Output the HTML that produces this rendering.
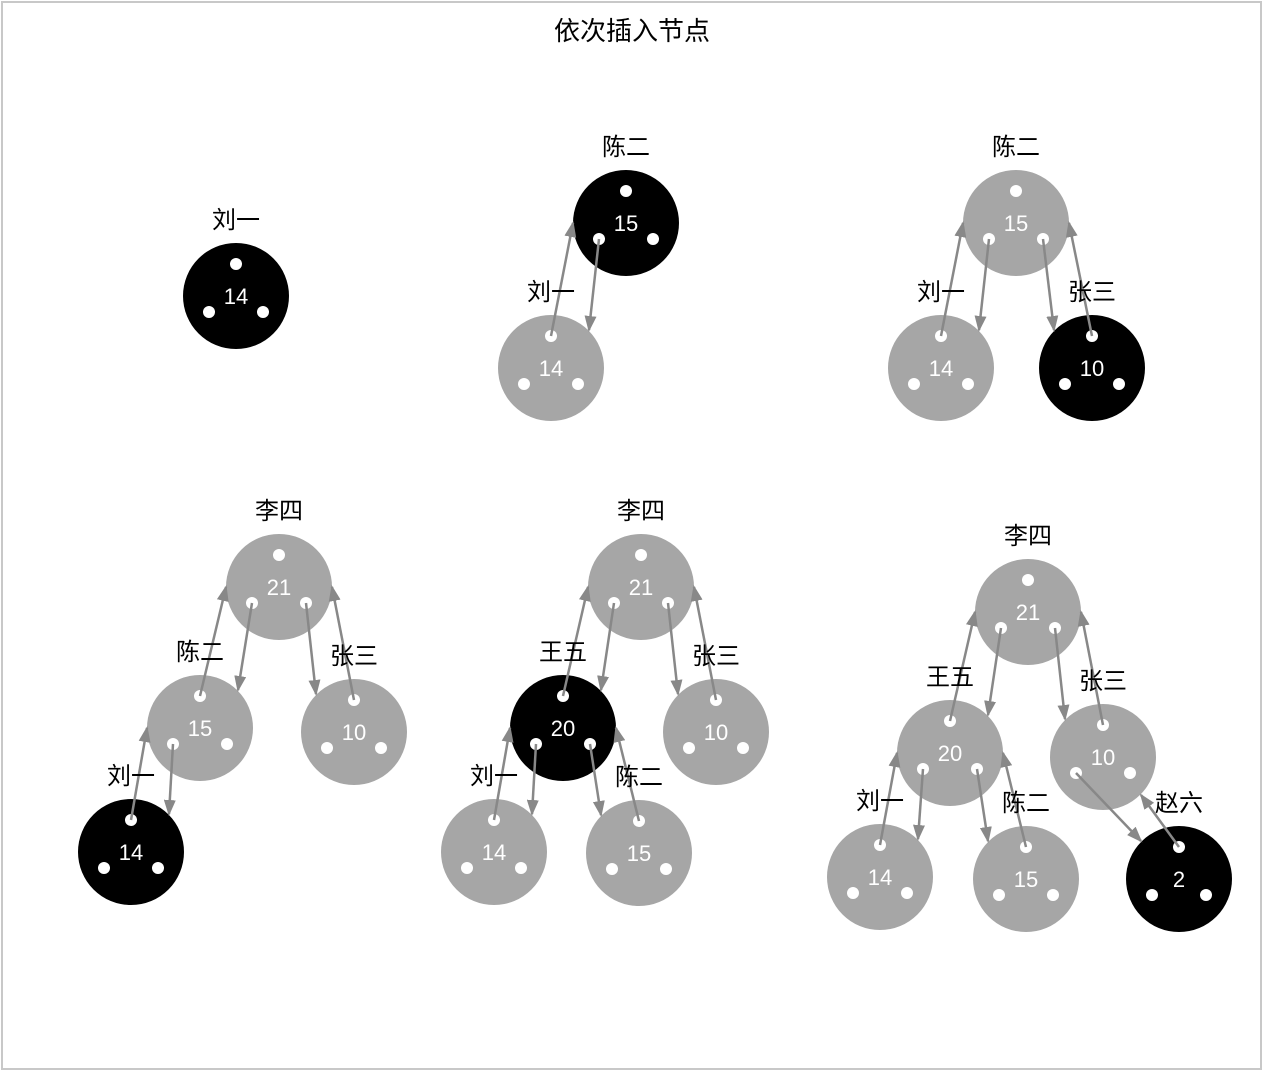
<!DOCTYPE html>
<html><head><meta charset="utf-8"><style>
body{margin:0;background:#fff;}
svg{display:block;font-family:"Liberation Sans","Noto Sans CJK SC",sans-serif;}
</style></head><body>
<svg id="c" width="1264" height="1072">
<defs><marker id="ah" markerWidth="16" markerHeight="12" refX="14" refY="6" orient="auto" markerUnits="userSpaceOnUse"><path d="M0,0 L16,6 L0,12 z" fill="#888"/></marker></defs>
<rect x="2" y="2" width="1259" height="1067" fill="#fff" stroke="#c8c8c8" stroke-width="2"/>
<text x="632" y="40" text-anchor="middle" font-size="26">依次插入节点</text>
<g id="g"></g>
</svg>
<script>
const nodeNames=["刘一","陈二","刘一","陈二","刘一","张三","李四","陈二","张三","刘一","李四","王五","张三","刘一","陈二","李四","王五","张三","刘一","陈二","赵六"];
const nodeValues=[14,15,14,15,14,10,21,15,10,14,21,20,10,14,15,21,20,10,14,15,2];
const nodeBlack=[1,1,0,0,0,1,0,0,0,1,0,1,0,0,0,0,0,0,0,0,1];
const nodeX=[236,626,551,1016,941,1092,279,200,354,131,641,563,716,494,639,1028,950,1103,880,1026,1179];
const nodeY=[296,223,368,223,368,368,587,728,732,852,587,728,732,852,853,612,753,757,877,879,879];
const edges=[[1,2,"L"],[3,4,"L"],[3,5,"R"],[6,7,"L"],[6,8,"R"],[7,9,"L"],[10,11,"L"],[10,12,"R"],[11,13,"L"],[11,14,"R"],[15,16,"L"],[15,17,"R"],[16,18,"L"],[16,19,"R"],[17,20,"S"]];
const R=53,g=document.getElementById('g'),NS="http://www.w3.org/2000/svg";
function mk(t,a,p){const e=document.createElementNS(NS,t);for(const k in a)e.setAttribute(k,a[k]);(p||g).appendChild(e);return e;}
function line(x1,y1,x2,y2,name){const l=mk('line',{x1,y1,x2,y2,stroke:'#888','stroke-width':2.5,'marker-end':'url(#ah)'});

}
edges.forEach(([p,c,k])=>{
 const px=nodeX[p],py=nodeY[p],cx=nodeX[c],cy=nodeY[c];
 let pd,pt,ct;
 if(k==="L"){pd=[-27,16];pt=[-R,0];ct=[38,-38];}
 else if(k==="R"){pd=[27,16];pt=[R,0];ct=[-38,-38];}
 else{pd=[-27,16];pt=[38,38];ct=[-38,-38];}
 line(px+pd[0],py+pd[1],cx+ct[0],cy+ct[1],'down-pointer');
 line(cx,cy-32,px+pt[0],py+pt[1],'parent-pointer');
});
nodeValues.forEach((v,i)=>{
 const x=nodeX[i],y=nodeY[i];
 const grp=mk('g',{});
 
 
 mk('circle',{cx:x,cy:y,r:R,fill:nodeBlack[i]?'#000':'#a6a6a6'},grp);
 [[0,-32],[-27,16],[27,16]].forEach(d=>mk('circle',{cx:x+d[0],cy:y+d[1],r:6,fill:'#fff'},grp));
 const t=mk('text',{x:x,y:y+8,'text-anchor':'middle','font-size':22,fill:'#fff'},grp);t.textContent=v;
 const lb=mk('text',{x:x,y:y-68,'text-anchor':'middle','font-size':24,fill:'#000'});
 lb.textContent=nodeNames[i];
 
 
});
document.querySelectorAll('line').forEach(l=>g.appendChild(l));
document.querySelectorAll('#g > text').forEach(t=>g.appendChild(t));
</script>
</body></html>
